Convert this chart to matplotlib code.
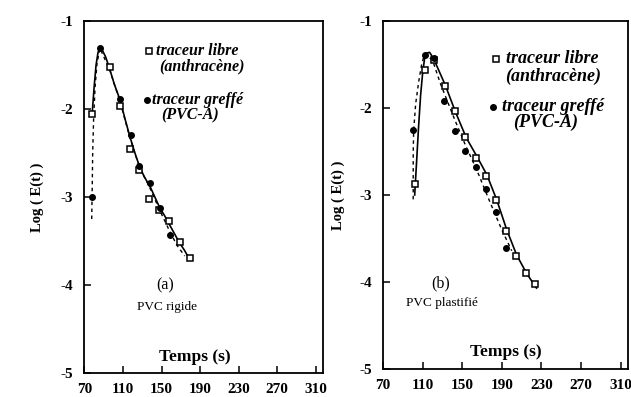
import matplotlib
matplotlib.use("Agg")
import matplotlib.pyplot as plt

plt.rcParams['font.family'] = ['Liberation Serif', 'DejaVu Serif']

# Axis ticks
time_ticks = [70, 110, 150, 190, 230, 270, 310]
logE_ticks = [-1, -2, -3, -4, -5]

# (a) PVC rigide - measured points
a_libre_t = [78, 96, 107, 117, 127, 137, 147, 158, 169, 179]
a_libre_logE = [-2.06, -1.52, -1.97, -2.46, -2.69, -3.02, -3.15, -3.27, -3.51, -3.69]
a_greffe_t = [77.5, 86, 107, 118, 127, 138, 148, 159]
a_greffe_logE = [-3.00, -1.31, -1.89, -2.30, -2.65, -2.84, -3.13, -3.43]

# (a) model curves
a_fit_libre_t = [78, 80, 82, 84, 86, 88, 92, 96, 101, 107, 112, 117, 122, 127,
                 132, 138, 143, 148, 153, 158, 163, 168, 174, 179]
a_fit_libre_logE = [-2.05, -1.75, -1.50, -1.36, -1.30, -1.32, -1.41, -1.54, -1.72,
                    -1.90, -2.11, -2.31, -2.49, -2.65, -2.77, -2.88, -3.00, -3.12,
                    -3.21, -3.31, -3.41, -3.51, -3.61, -3.71]
a_fit_greffe_t = [77.5, 78, 78.5, 79.5, 81, 83, 86, 96, 107, 117, 127, 138, 148,
                  158, 166, 174]
a_fit_greffe_logE = [-3.25, -2.90, -2.50, -2.10, -1.75, -1.48, -1.31, -1.55, -1.92,
                     -2.32, -2.66, -2.90, -3.15, -3.38, -3.55, -3.67]

# (b) PVC plastifie - measured points
b_libre_t = [102, 112, 121, 133, 143, 153, 164, 174, 184, 194, 204, 214, 224]
b_libre_logE = [-2.87, -1.56, -1.45, -1.75, -2.03, -2.33, -2.57, -2.78, -3.06,
                -3.41, -3.70, -3.90, -4.02]
b_greffe_t = [100, 112, 121, 132, 143, 153, 164, 174, 184, 194]
b_greffe_logE = [-2.25, -1.39, -1.43, -1.92, -2.26, -2.49, -2.68, -2.93, -3.20, -3.61]

# (b) model curves
b_fit_libre_t = [102, 104, 106, 108, 110, 112, 114, 117, 121, 133, 143, 154, 165,
                 175, 185, 195, 205, 215, 225]
b_fit_libre_logE = [-3.00, -2.60, -2.20, -1.85, -1.60, -1.43, -1.37, -1.36, -1.43,
                    -1.74, -2.04, -2.34, -2.56, -2.77, -3.06, -3.40, -3.69, -3.90,
                    -4.07]
b_fit_greffe_t = [100.5, 100.5, 101, 103, 106, 109, 112, 120, 128, 143, 153, 165,
                  178, 190, 200]
b_fit_greffe_logE = [-3.05, -2.50, -2.25, -1.95, -1.70, -1.50, -1.38, -1.45, -1.72,
                     -2.15, -2.42, -2.72, -3.08, -3.40, -3.64]

fig = plt.figure(figsize=(6.31, 3.97), dpi=100, facecolor='white')
ax_a = fig.add_axes([0.1339, 0.0605, 0.378, 0.8866])
ax_b = fig.add_axes([0.607, 0.0705, 0.3883, 0.8766])


def draw_panel(ax, libre_t, libre_y, greffe_t, greffe_y, fit_t, fit_y, gfit_t, gfit_y,
               ylabel_x, legend_pos, legend_fs, tag, tag_pos, subtitle, sub_pos, temps_pos):
    ax.plot(fit_t, fit_y, color='black', lw=1.2, zorder=2)
    ax.plot(gfit_t, gfit_y, color='black', lw=1.0, dashes=(2.5, 2.5), zorder=2)
    ax.plot(libre_t, libre_y, ls='none', marker='s', ms=4.6, mfc='white',
            mec='black', mew=1.1, zorder=3)
    ax.plot(greffe_t, greffe_y, ls='none', marker='o', ms=4.0, color='black', zorder=4)

    ax.set_xlim(70, 317.5)
    ax.set_ylim(-5, -1)
    ax.set_xticks(time_ticks)
    ax.set_yticks(logE_ticks)
    ax.set_xticklabels([str(t) for t in time_ticks], fontsize=11, fontweight='bold')
    ax.set_yticklabels([str(v) for v in logE_ticks], fontsize=11, fontweight='bold')
    ax.tick_params(axis='both', direction='in', length=5, width=1.1, color='black')
    ax.tick_params(axis='x', pad=7)
    ax.tick_params(axis='y', pad=8)
    for sp in ax.spines.values():
        sp.set_linewidth(1.3)

    ax.set_ylabel('Log ( E(t) )', fontsize=10.5, fontweight='bold')
    ax.yaxis.set_label_coords(ylabel_x, 0.5)
    ax.text(temps_pos[0], temps_pos[1], 'Temps (s)', transform=ax.transAxes,
            ha='center', va='center', fontsize=12.5, fontweight='bold')

    # legend keys
    (sx, sy), (dx, dy), tx1, tx2, tx3, tx4, dy1, dy2 = legend_pos
    ax.plot([sx], [sy], transform=ax.transAxes, marker='s', ms=4.6, mfc='white',
            mec='black', mew=1.1, ls='none', clip_on=False)
    ax.plot([dx], [dy], transform=ax.transAxes, marker='o', ms=4.0, color='black',
            ls='none', clip_on=False)
    style = dict(transform=ax.transAxes, va='center', ha='left', fontsize=legend_fs,
                 fontweight='bold', fontstyle='italic')
    ax.text(tx1, sy, 'traceur libre', **style)
    ax.text(tx2, sy - dy1, '(anthracène)', **style)
    ax.text(tx3, dy, 'traceur greffé', **style)
    ax.text(tx4, dy - dy2, '(PVC-A)', **style)

    ax.text(tag_pos[0], tag_pos[1], tag, transform=ax.transAxes, ha='center',
            va='center', fontsize=11.5)
    ax.text(sub_pos[0], sub_pos[1], subtitle, transform=ax.transAxes, ha='center',
            va='center', fontsize=9.5)


draw_panel(ax_a, a_libre_t, a_libre_logE, a_greffe_t, a_greffe_logE,
           a_fit_libre_t, a_fit_libre_logE, a_fit_greffe_t, a_fit_greffe_logE,
           ylabel_x=-0.17,
           legend_pos=((0.271, 0.915), (0.261, 0.776), 0.300, 0.312, 0.282, 0.322,
                       0.045, 0.045),
           legend_fs=11.5, tag='(a)', tag_pos=(0.34, 0.248),
           subtitle='PVC rigide', sub_pos=(0.345, 0.188), temps_pos=(0.463, 0.045))

draw_panel(ax_b, b_libre_t, b_libre_logE, b_greffe_t, b_greffe_logE,
           b_fit_libre_t, b_fit_libre_logE, b_fit_greffe_t, b_fit_greffe_logE,
           ylabel_x=-0.155,
           legend_pos=((0.461, 0.891), (0.448, 0.753), 0.500, 0.500, 0.486, 0.530,
                       0.049, 0.045),
           legend_fs=13, tag='(b)', tag_pos=(0.235, 0.245),
           subtitle='PVC plastifié', sub_pos=(0.24, 0.190), temps_pos=(0.50, 0.05))

fig.savefig('out.png', dpi=100, facecolor='white')
